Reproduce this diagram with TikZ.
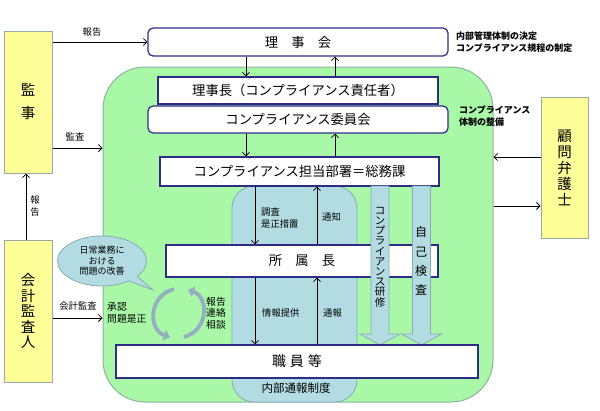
\documentclass[tikz,border=0pt]{standalone}
\usepackage{fontspec}
\setmainfont{Noto Sans CJK JP}
\usetikzlibrary{arrows.meta,shapes.callouts,calc}
\definecolor{navy}{RGB}{45,45,135}
\definecolor{lgreen}{RGB}{168,248,168}
\definecolor{greenedge}{RGB}{140,180,160}
\definecolor{lblue}{RGB}{178,220,226}
\definecolor{blueedge}{RGB}{135,170,180}
\definecolor{lyellow}{RGB}{255,255,153}
\definecolor{yedge}{RGB}{150,170,170}
\definecolor{cyc}{RGB}{150,175,190}
\tikzset{
  wbox/.style={draw=navy, line width=1.2pt, fill=white, inner sep=0pt,
    font=\fontsize{13.3}{16}\selectfont},
  rbox/.style={wbox, rounded corners=5pt},
  ybox/.style={draw=yedge, line width=1pt, fill=lyellow, inner sep=0pt, align=center},
  lab/.style={font=\fontsize{9.3}{11.3}\selectfont, inner sep=0pt, align=left},
  note/.style={font=\bfseries\fontsize{9}{12}\selectfont, inner sep=0pt, align=left, anchor=west},
  arr/.style={-{Straight Barb[length=3.5pt,width=7pt]}, line width=0.8pt},
  bigarrow/.style={fill=lblue, draw=blueedge, line width=0.8pt},
  cycarrow/.style={draw=cyc, line width=3.8pt, -{Triangle[width=11pt,length=6pt]}},
}
\begin{document}
\begin{tikzpicture}[x=1pt,y=-1pt]
\useasboundingbox (0,0) rectangle (600,410);
% green region
\node[draw=greenedge, line width=1pt, fill=lgreen, rounded corners=42pt,
  minimum width=390pt, minimum height=335pt, inner sep=0pt] (green) at (298,234.5) {};
% blue region
\node[draw=blueedge, line width=0.8pt, fill=lblue, rounded corners=22pt,
  minimum width=125pt, minimum height=216pt, inner sep=0pt] (blue) at (294.5,294) {};
\node[font=\fontsize{11.5}{13}\selectfont, inner sep=0pt] (naibu) at (296,388) {内部通報制度};

% side boxes
\node[ybox, minimum width=48pt, minimum height=142pt,
  font=\fontsize{14.5}{23}\selectfont] (kanji) at (28,102) {監\\事};
\node[ybox, minimum width=48pt, minimum height=142pt,
  font=\fontsize{14.5}{15.5}\selectfont] (kaikei) at (28,311) {会\\計\\監\\査\\人};
\node[ybox, minimum width=47pt, minimum height=141pt,
  font=\fontsize{14.5}{16}\selectfont] (komon) at (564.5,167.5) {顧\\問\\弁\\護\\士};

% main boxes
\node[rbox, minimum width=300pt, minimum height=28pt] (rijikai) at (298,42) {理　事　会};
\node[wbox, minimum width=280pt, minimum height=27pt] (rijicho) at (298,90.5) {理事長（コンプライアンス責任者）};
\node[rbox, minimum width=300pt, minimum height=27pt] (iinkai) at (298,119.5) {コンプライアンス委員会};
\node[wbox, minimum width=279pt, minimum height=29pt] (tanto) at (299.5,171.5) {コンプライアンス担当部署＝総務課};
\node[wbox, minimum width=272pt, minimum height=32pt] (shozoku) at (302,261) {所　属　長};

% big arrows
\path[bigarrow] (371,186) -- (389,186) -- (389,334) -- (400,334) -- (380,345) -- (360,334) -- (371,334) -- cycle;
\path[bigarrow] (412.5,186) -- (430.5,186) -- (430.5,334) -- (441.5,334) -- (421.5,345) -- (401.5,334) -- (412.5,334) -- cycle;
\node[font=\fontsize{10.5}{10.2}\selectfont, align=center, inner sep=0pt] (kenshu) at (380,257)
  {コ\\ン\\プ\\ラ\\イ\\ア\\ン\\ス\\研\\修};
\node[font=\fontsize{12}{19.3}\selectfont, align=center, inner sep=0pt] (jiko) at (421,261)
  {自\\己\\検\\査};

\node[wbox, minimum width=362pt, minimum height=33pt, font=\fontsize{14}{16}\selectfont] (shokuin) at (297,361.5)
  {職\hspace{4pt}員\hspace{4pt}等};

% coordinates for connectors
\coordinate (xL) at (246,0);
\coordinate (xR) at (335,0);
\coordinate (xl) at (255,0);
\coordinate (xr) at (317,0);
\coordinate (xv) at (26,0);
\coordinate (ykansa) at (0,148);
\coordinate (ykaikei) at (0,318);
\coordinate (yk1) at (0,157);
\coordinate (yk2) at (0,206);

% connectors
\draw[arr] (kanji.east |- rijikai.west) -- (rijikai.west);
\node[lab] (l1) at (92,32) {報告};
\draw[arr] (kanji.east |- ykansa) -- (green.west |- ykansa);
\node[lab] (l2) at (75,137) {監査};
\draw[arr] (kaikei.north -| xv) -- (kanji.south -| xv);
\node[lab, align=center, font=\fontsize{9.3}{12}\selectfont] (l3) at (35,206) {報\\告};
\draw[arr] (kaikei.east |- ykaikei) -- (green.west |- ykaikei);
\node[lab] (l4) at (78,306) {会計監査};
\node[lab, anchor=west, font=\fontsize{9.8}{12.5}\selectfont] (l5) at (107,313) {承認\\問題是正};

\draw[arr] (rijikai.south -| xL) -- (rijicho.north -| xL);
\draw[arr] (rijicho.north -| xR) -- (rijikai.south -| xR);
\draw[arr] (iinkai.south -| xL) -- (tanto.north -| xL);
\draw[arr] (tanto.north -| xR) -- (iinkai.south -| xR);

\draw[arr] (tanto.south -| xl) -- (shozoku.north -| xl);
\draw[arr] (shozoku.north -| xr) -- (tanto.south -| xr);
\draw[arr] (shozoku.south -| xl) -- (shokuin.north -| xl);
\draw[arr] (shokuin.north -| xr) -- (shozoku.south -| xr);
\node[lab, anchor=west] (l6) at (261,218) {調査\\是正措置};
\node[lab, anchor=west] (l7) at (322,217) {通知};
\node[lab, anchor=west] (l8) at (262,313) {情報提供};
\node[lab, anchor=west] (l9) at (323,313) {通報};

\draw[arr] (komon.west |- yk1) -- (green.east |- yk1);
\draw[arr] (green.east |- yk2) -- (komon.west |- yk2);

% notes
\node[note] (n1) at (456,42) {内部管理体制の決定\\コンプライアンス規程の制定};
\node[note] (n2) at (459,116) {コンプライアンス\\体制の整備};

% speech bubble
\node[ellipse callout, draw=blueedge, line width=0.8pt, fill=lblue, minimum width=89pt, minimum height=50pt,
  inner sep=0pt, callout absolute pointer={(153,290)}, align=center,
  font=\fontsize{9}{10.5}\selectfont] (bubble) at (102,261) {日常業務に\\おける\\問題の改善};

% cycle arrows
\coordinate (c1) at (174,289);
\coordinate (c2) at (170,337);
\coordinate (c3) at (184,337);
\coordinate (c4) at (188,290);
\draw[cycarrow] (c1) .. controls (148,296) and (148,330) .. (c2);
\draw[cycarrow] (c3) .. controls (209,330) and (209,297) .. (c4);
\node[lab, align=center, font=\fontsize{9.8}{11.5}\selectfont] (l10) at (216,313) {報告\\連絡\\相談};
\end{tikzpicture}
\end{document}
